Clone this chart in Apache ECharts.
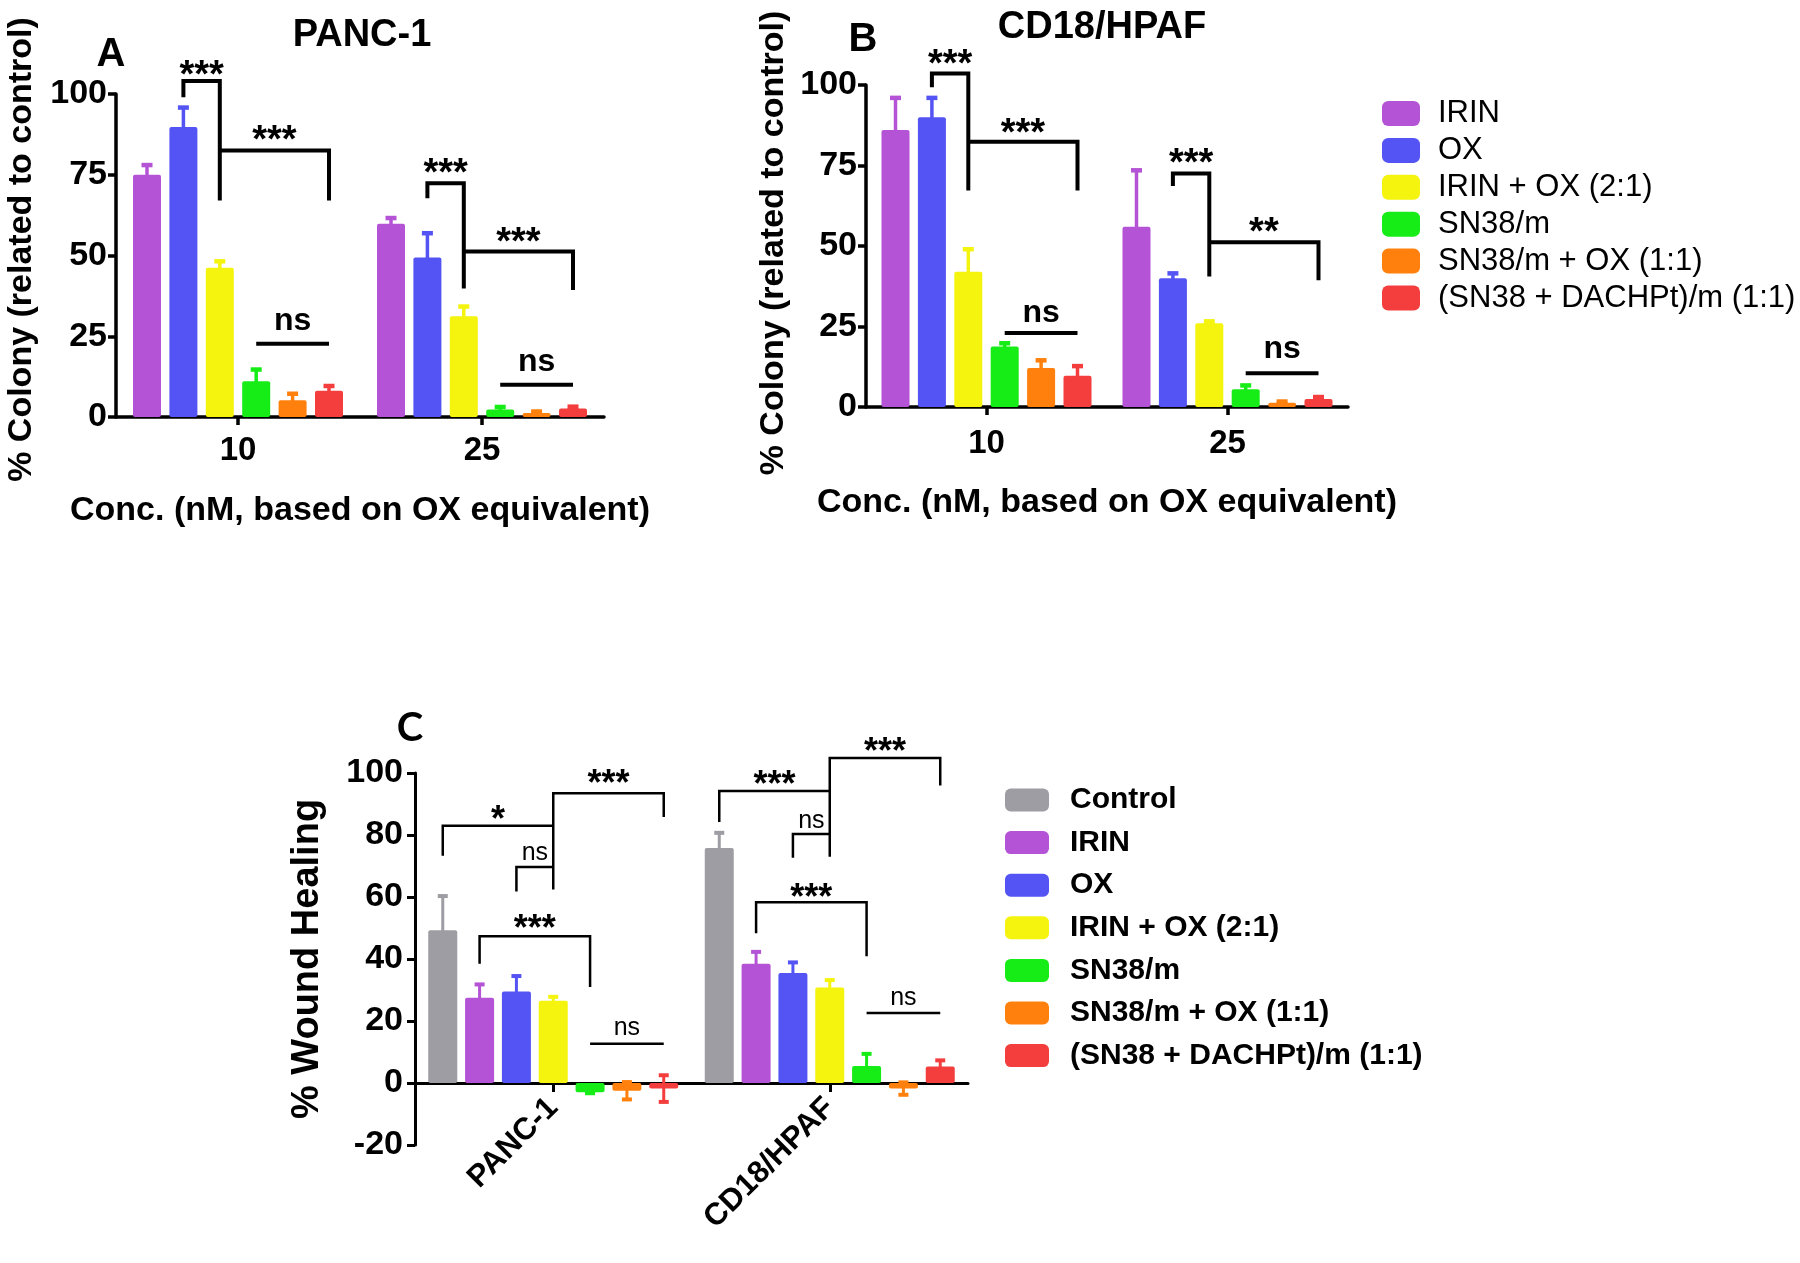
<!DOCTYPE html>
<html>
<head>
<meta charset="utf-8">
<script src="https://cdn.jsdelivr.net/npm/echarts@6.0.0/dist/echarts.min.js"></script>
<style>
html,body{margin:0;padding:0;background:#ffffff;}
#chart{width:1800px;height:1263px;}
</style>
</head>
<body>
<div id="chart"></div>
<script>
// ---------------- DATA ----------------
const treatments = ['IRIN', 'OX', 'IRIN + OX (2:1)', 'SN38/m', 'SN38/m + OX (1:1)', '(SN38 + DACHPt)/m (1:1)'];
const woundTreatments = ['Control', 'IRIN', 'OX', 'IRIN + OX (2:1)', 'SN38/m', 'SN38/m + OX (1:1)', '(SN38 + DACHPt)/m (1:1)'];
const concLabels = ['10', '25'];
const cellLines = ['PANC-1', 'CD18/HPAF'];
const colonyTicks = [0, 25, 50, 75, 100];
const woundTicks = [-20, 0, 20, 40, 60, 80, 100];

// Panel A: PANC-1 colony (% of control); rows = treatments, columns = [10 nM, 25 nM]
const colonyPancMean = [[75, 59.8], [89.8, 49.4], [46.2, 31.2], [11.1, 2.3], [5.2, 1.2], [8.1, 2.6]];
const colonyPancSD = [[3, 1.8], [6, 7.5], [2, 3], [3.6, 0.8], [2, 0.5], [1.5, 0.6]];
// Panel B: CD18/HPAF colony (% of control)
const colonyHpafMean = [[86, 56], [90, 40], [42, 26], [18.8, 5.5], [12.1, 1.3], [9.7, 2.5]];
const colonyHpafSD = [[10, 17.5], [6, 1.5], [7, 0.6], [1, 1.2], [2.4, 0.4], [3, 0.6]];
// Panel C: % wound healing; rows = woundTreatments, columns = [PANC-1, CD18/HPAF]
const woundMean = [[49.3, 75.8], [27.5, 38.5], [29.5, 35.5], [26.5, 30.8], [-3, 5.5], [-2.5, -1.8], [-1.8, 5.3]];
const woundSD = [[11, 4.9], [4.3, 3.8], [5, 3.4], [1.3, 2.4], [0.3, 3.9], [2.8, 2], [4.3, 2]];

// Significance brackets: [group, fromBar, toBar, top, leftLegEnd, rightLegEnd, labelValue, label]
const sigA = [[0, 1, 2, 104, 99, 67, 108, '***'], [0, 2, 5, 82.5, 82.5, 67, 88, '***'], [0, 3, 5, 22.7, 22.7, 22.7, 29, 'ns'],
              [1, 1, 2, 72.4, 67.7, 39.8, 77.6, '***'], [1, 2, 5, 51.2, 51.2, 39.3, 56.4, '***'], [1, 3, 5, 10, 10, 10, 16.5, 'ns']];
const sigB = [[0, 1, 2, 103.6, 99.3, 67.2, 108.8, '***'], [0, 2, 5, 82.4, 82.4, 67.2, 87.3, '***'], [0, 3, 5, 23, 23, 23, 28.6, 'ns'],
              [1, 1, 2, 72.5, 68.6, 40.5, 77.8, '***'], [1, 2, 5, 51.2, 51.2, 39.4, 56.4, '**'], [1, 3, 5, 10.5, 10.5, 10.5, 17.5, 'ns']];
const sigC = [[0, 0, 3, 83, 73.3, 83, 87, '*'], [0, 3, 6, 93.5, 62.4, 85.8, 98.5, '***'], [0, 2, 3, 69.7, 61.8, 69.7, 73.7, 'ns'],
              [0, 1, 4, 47.3, 38.5, 31, 51.8, '***'], [0, 4, 6, 12.7, 12.7, 12.7, 17.2, 'ns'],
              [1, 0, 3, 94.2, 84.2, 94.2, 98.4, '***'], [1, 3, 6, 104.8, 73, 96, 109, '***'], [1, 2, 3, 80.3, 72.7, 80.3, 84, 'ns'],
              [1, 1, 4, 58.3, 48.3, 40.9, 61.8, '***'], [1, 4, 6, 22.6, 22.6, 22.6, 27, 'ns']];

// ---------------- STYLE ----------------
const FONT = '"Liberation Sans", Arial, sans-serif';
const colorsC = ['#9d9da3', '#b453d6', '#5454f4', '#f4f40e', '#16ec16', '#ff800c', '#f43e3e'];
const colorsAB = colorsC.slice(1);

const geomA = { n: 6, bw: 28, gap: 0.3, cap: 11, lw: 3.5, colors: colorsAB, bl: 4, starSize: 38, starW: 'bold', nsSize: 32, nsW: 'bold' };
const geomB = { n: 6, bw: 28, gap: 0.3, cap: 11, lw: 3.5, colors: colorsAB, bl: 4, starSize: 38, starW: 'bold', nsSize: 32, nsW: 'bold' };
const geomC = { n: 7, bw: 29, gap: 0.27, cap: 10, lw: 3, colors: colorsC, bl: 2.5, starSize: 36, starW: 'bold', nsSize: 25, nsW: 'normal' };

function barOffset(g, i) { return (i - (g.n - 1) / 2) * g.bw * (1 + g.gap); }

function errorRender(g) {
  return function (params, api) {
    const cat = api.value(0), mean = api.value(1), idx = api.value(2), sd = api.value(3);
    const x = api.coord([cat, mean])[0] + barOffset(g, idx);
    const yHi = api.coord([cat, mean + sd])[1];
    const yLo = api.coord([cat, mean - sd])[1];
    const st = { stroke: g.colors[idx], lineWidth: g.lw, fill: null };
    const h = g.cap / 2;
    return { type: 'group', children: [
      { type: 'line', shape: { x1: x, y1: yHi, x2: x, y2: yLo }, style: st },
      { type: 'line', shape: { x1: x - h, y1: yHi, x2: x + h, y2: yHi }, style: Object.assign({}, st, { lineWidth: g.lw + 1 }) },
      { type: 'line', shape: { x1: x - h, y1: yLo, x2: x + h, y2: yLo }, style: Object.assign({}, st, { lineWidth: g.lw + 1 }) }
    ] };
  };
}

function bracketRender(list, g) {
  return function (params, api) {
    const b = list[params.dataIndex];
    const cat = b[0];
    const cx = api.coord([cat, 0])[0];
    const xi = cx + barOffset(g, b[1]);
    const xj = cx + barOffset(g, b[2]);
    const yTop = api.coord([cat, b[3]])[1];
    const yL = api.coord([cat, b[4]])[1];
    const yR = api.coord([cat, b[5]])[1];
    const isStar = b[7].indexOf('*') >= 0;
    const fs = isStar ? g.starSize : g.nsSize;
    const ty = api.coord([cat, b[6]])[1] + (isStar ? 0.22 * fs : -0.06 * fs);
    return { type: 'group', children: [
      { type: 'polyline', shape: { points: [[xi, yL], [xi, yTop], [xj, yTop], [xj, yR]] },
        style: { stroke: '#000', lineWidth: g.bl, fill: null, lineJoin: 'miter' } },
      { type: 'text', style: { text: b[7], x: (xi + xj) / 2, y: ty, align: 'center', verticalAlign: 'middle',
        fontSize: fs, fontWeight: isStar ? g.starW : g.nsW, fontFamily: FONT, fill: '#000' } }
    ] };
  };
}

function errData(means, sds) {
  const out = [];
  means.forEach((row, s) => row.forEach((v, c) => out.push([c, v, s, sds[s][c]])));
  return out;
}

const axisLineStyle = (w) => ({ show: true, onZero: true, lineStyle: { color: '#000', width: w } });
const labelStyle = { color: '#000', fontSize: 33, fontWeight: 'bold', fontFamily: FONT };
const yLabelStyle = { color: '#000', fontSize: 34, fontWeight: 'bold', fontFamily: FONT };

function makeXAxis(gi, data, name, margin, nameGap, extra) {
  return Object.assign({
    type: 'category', gridIndex: gi, data: data,
    axisLine: axisLineStyle(3.5),
    axisTick: { show: true, alignWithLabel: true, length: 8, lineStyle: { color: '#000', width: 3.5 } },
    axisLabel: Object.assign({ margin: margin }, labelStyle),
    splitLine: { show: false },
    name: name, nameLocation: 'middle', nameGap: nameGap,
    nameTextStyle: { color: '#000', fontSize: 34, fontWeight: 'bold', fontFamily: FONT, lineHeight: 34 }
  }, extra || {});
}
function makeYAxis(gi, ticks, name, gap, fs, lw, margin, shift) {
  return {
    type: 'value', gridIndex: gi, min: ticks[0], max: ticks[ticks.length - 1], interval: ticks[1] - ticks[0],
    axisLine: axisLineStyle(lw),
    axisTick: { show: true, length: 8, lineStyle: { color: '#000', width: lw } },
    axisLabel: Object.assign({ margin: margin }, yLabelStyle),
    splitLine: { show: false },
    name: name, nameLocation: 'middle', nameRotate: 90, nameGap: gap,
    nameTextStyle: { color: '#000', fontSize: fs, fontWeight: 'bold', fontFamily: FONT, lineHeight: fs, padding: [0, 0, 0, shift] }
  };
}

const series = [];
function addBars(names, means, g, gi) {
  names.forEach((nm, s) => {
    series.push({
      type: 'bar', name: nm, xAxisIndex: gi, yAxisIndex: gi, data: means[s],
      barWidth: g.bw, barGap: (g.gap * 100) + '%', z: 3,
      itemStyle: { color: g.colors[s], borderRadius: 2 },
      emphasis: { disabled: true }
    });
  });
}
addBars(treatments, colonyPancMean, geomA, 0);
addBars(treatments, colonyHpafMean, geomB, 1);
addBars(woundTreatments, woundMean, geomC, 2);

[[geomA, colonyPancMean, colonyPancSD, 0], [geomB, colonyHpafMean, colonyHpafSD, 1], [geomC, woundMean, woundSD, 2]].forEach(p => {
  series.push({ type: 'custom', xAxisIndex: p[3], yAxisIndex: p[3], z: 2, silent: true,
    renderItem: errorRender(p[0]), data: errData(p[1], p[2]) });
});
[[sigA, geomA, 0], [sigB, geomB, 1], [sigC, geomC, 2]].forEach(p => {
  series.push({ type: 'custom', xAxisIndex: p[2], yAxisIndex: p[2], z: 4, silent: true, clip: false,
    renderItem: bracketRender(p[0], p[1]), data: p[0].map(b => [b[0], b[3]]) });
});

const option = {
  backgroundColor: '#ffffff',
  animation: false,
  textStyle: { fontFamily: FONT },
  grid: [
    { left: 116, top: 94, width: 488, height: 323, outerBoundsMode: 'none', containLabel: false },
    { left: 866, top: 85, width: 482, height: 322, outerBoundsMode: 'none', containLabel: false },
    { left: 415, top: 773, width: 553, height: 372, outerBoundsMode: 'none', containLabel: false }
  ],
  xAxis: [
    makeXAxis(0, concLabels, 'Conc. (nM, based on OX equivalent)', 17, 77),
    makeXAxis(1, concLabels, 'Conc. (nM, based on OX equivalent)', 20, 79),
    makeXAxis(2, cellLines, '', -40, 40, {
      axisLine: axisLineStyle(3),
      axisTick: { show: true, alignWithLabel: true, length: 9, lineStyle: { color: '#000', width: 3 } },
      axisLabel: Object.assign({ margin: -42, rotate: 45 }, labelStyle, { fontSize: 31 })
    })
  ],
  yAxis: [
    makeYAxis(0, colonyTicks, '% Colony (related to control)', 77, 34, 3.5, 9, 12),
    makeYAxis(1, colonyTicks, '% Colony (related to control)', 75, 34, 3.5, 9, 6),
    makeYAxis(2, woundTicks, '% Wound Healing', 88, 38, 3, 12, 0)
  ],
  legend: [
    { data: treatments, orient: 'vertical', left: 1382, top: 98, padding: 0, itemWidth: 38, itemHeight: 25, itemGap: 5.9,
      icon: 'roundRect', selectedMode: false,
      textStyle: { color: '#000', fontSize: 31, fontFamily: FONT, lineHeight: 31, padding: [0, 0, 0, 13] } },
    { data: woundTreatments, orient: 'vertical', left: 1005, top: 785, padding: 0, itemWidth: 44, itemHeight: 23, itemGap: 12.6,
      icon: 'roundRect', selectedMode: false,
      textStyle: { color: '#000', fontSize: 30, fontWeight: 'bold', fontFamily: FONT, lineHeight: 30, padding: [0, 0, 0, 16] } }
  ],
  graphic: [
    { type: 'text', x: 362, y: 36, style: { text: 'PANC-1', align: 'center', verticalAlign: 'middle', fontSize: 38, fontWeight: 'bold', fontFamily: FONT, fill: '#000' } },
    { type: 'text', x: 1102, y: 28, style: { text: 'CD18/HPAF', align: 'center', verticalAlign: 'middle', fontSize: 38, fontWeight: 'bold', fontFamily: FONT, fill: '#000' } },
    { type: 'text', x: 111, y: 55, style: { text: 'A', align: 'center', verticalAlign: 'middle', fontSize: 40, fontWeight: 'bold', fontFamily: FONT, fill: '#000' } },
    { type: 'text', x: 863, y: 40, style: { text: 'B', align: 'center', verticalAlign: 'middle', fontSize: 40, fontWeight: 'bold', fontFamily: FONT, fill: '#000' } },
    { type: 'text', x: 410, y: 728, style: { text: 'C', align: 'center', verticalAlign: 'middle', fontSize: 40, fontWeight: 'bold', fontFamily: 'Lato, "Open Sans", sans-serif', fill: '#000' } }
  ],
  series: series
};

const chart = echarts.init(document.getElementById('chart'), null, { renderer: 'canvas' });
chart.setOption(option);
</script>
</body>
</html>
